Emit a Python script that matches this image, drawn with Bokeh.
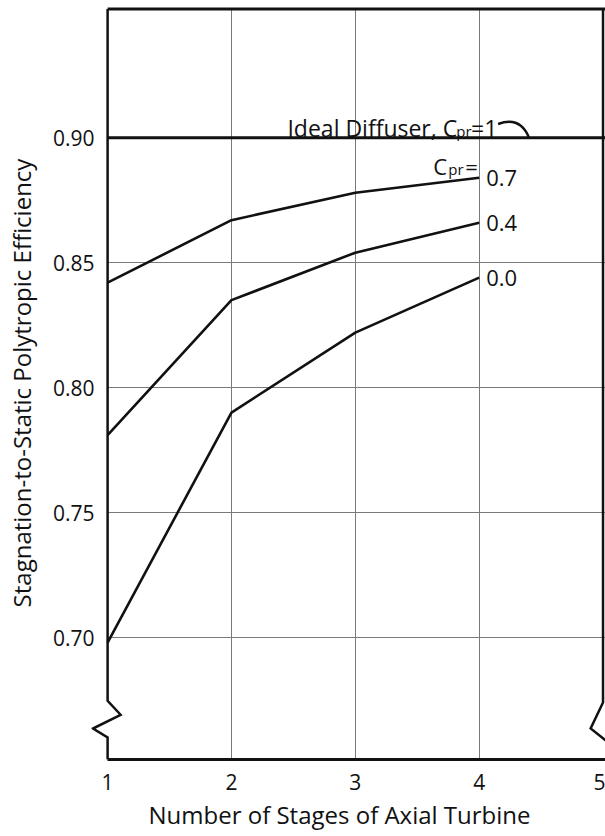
from bokeh.plotting import figure
from bokeh.models import (Range1d, FixedTicker, PrintfTickFormatter, Label, Title)
from bokeh.embed import file_html
from bokeh.resources import INLINE

# ---- data ----
stages = [1, 2, 3, 4]
eff_cpr_07 = [0.842, 0.867, 0.878, 0.884]
eff_cpr_04 = [0.781, 0.835, 0.854, 0.866]
eff_cpr_00 = [0.698, 0.790, 0.822, 0.844]
ideal_eff = 0.90
x_ticks = [1, 2, 3, 4, 5]
y_ticks = [0.70, 0.75, 0.80, 0.85, 0.90]
curve_labels = ["0.7", "0.4", "0.0"]
x_title = "Number of Stages of Axial Turbine"
y_title = "Stagnation-to-Static Polytropic Efficiency"

FONT = "Open Sans"
BLACK = "#111111"

X0, X1 = 0.87, 5.02
Y0, Y1 = 0.6512, 0.9525
YTOP = 0.9515  # top frame line

p = figure(width=605, height=836, output_backend="svg", toolbar_location=None,
           x_range=Range1d(X0, X1), y_range=Range1d(Y0, Y1),
           min_border_left=91, min_border_right=0, min_border_top=6,
           min_border_bottom=77)
p.outline_line_color = None
p.background_fill_color = "white"
p.border_fill_color = "white"

# x axis
xa = p.xaxis[0]
xa.ticker = FixedTicker(ticks=x_ticks)
xa.bounds = (1, X1)
xa.axis_line_width = 3
xa.axis_line_color = BLACK
xa.major_tick_line_color = None
xa.minor_tick_line_color = None
xa.major_label_standoff = 8
xa.major_label_text_font = FONT
xa.major_label_text_font_size = "21px"
xa.major_label_text_color = BLACK

# x title placed below the axis, starting where the reference text starts
p.add_layout(Title(text=x_title, align="left", offset=57, standoff=6,
                   text_font=FONT, text_font_size="24px", text_font_style="normal",
                   text_color=BLACK), "below")

# y axis (labels pulled in so they sit left of the x=1 frame line)
ya = p.yaxis[0]
ya.ticker = FixedTicker(ticks=y_ticks)
ya.formatter = PrintfTickFormatter(format="%.2f")
ya.axis_line_color = None
ya.major_tick_line_color = None
ya.minor_tick_line_color = None
ya.major_label_standoff = -9
ya.major_label_text_font = FONT
ya.major_label_text_font_size = "21px"
ya.major_label_text_color = BLACK
ya.axis_label = y_title
ya.axis_label_text_font = FONT
ya.axis_label_text_font_size = "24px"
ya.axis_label_text_font_style = "normal"
ya.axis_label_text_color = BLACK
ya.axis_label_standoff = 12

# grids
xg = p.xgrid[0]
xg.ticker = FixedTicker(ticks=x_ticks[1:-1])
xg.grid_line_color = "#7a7a7a"
xg.grid_line_width = 1
xg.cross_bounds = (Y0, YTOP)
yg = p.ygrid[0]
yg.ticker = FixedTicker(ticks=y_ticks[:-1])
yg.grid_line_color = "#7a7a7a"
yg.grid_line_width = 1
yg.cross_bounds = (1, X1)

# frame: top, left (with break), right (with break)
p.line([1, X1], [YTOP, YTOP], line_color=BLACK, line_width=3)
p.line([1, 1, 1.105, 0.882, 1, 1], [YTOP, 0.6747, 0.6691, 0.6636, 0.6600, Y0],
       line_color=BLACK, line_width=2.5, line_join="miter")
p.line([5, 5, 4.9, 5.03], [YTOP, 0.6740, 0.6636, 0.6585],
       line_color=BLACK, line_width=2.5, line_join="miter")

# ideal diffuser line
p.line([1, X1], [ideal_eff, ideal_eff], line_color=BLACK, line_width=3)

# curves
for ys in (eff_cpr_07, eff_cpr_04, eff_cpr_00):
    p.line(stages, ys, line_color=BLACK, line_width=2.6)

# curve labels
for lab, ys in zip(curve_labels, (eff_cpr_07, eff_cpr_04, eff_cpr_00)):
    p.add_layout(Label(x=stages[-1], y=ys[-1], text=lab, x_offset=7, y_offset=0,
                       text_baseline="middle", text_align="left",
                       text_font=FONT, text_font_size="22px", text_color=BLACK))

# "Ideal Diffuser, C_pr=1" label with hook
p.add_layout(Label(x=2.452, y=0.9039, text="Ideal Diffuser, C", text_align="left",
                   text_baseline="alphabetic", text_font=FONT,
                   text_font_size="23px", text_color=BLACK))
p.add_layout(Label(x=3.815, y=0.9027, text="pr", text_align="left",
                   text_baseline="alphabetic", text_font=FONT,
                   text_font_size="15px", text_color=BLACK))
p.add_layout(Label(x=3.935, y=0.9039, text="=1", text_align="left",
                   text_baseline="alphabetic", text_font=FONT,
                   text_font_size="23px", text_color=BLACK))
p.quadratic(x0=4.153, y0=0.9055, x1=4.403, y1=ideal_eff, cx=4.33, cy=0.9088,
            line_color=BLACK, line_width=2.5)

# "C_pr=" header above curve labels
p.add_layout(Label(x=3.629, y=0.8887, text="C", text_align="left",
                   text_baseline="alphabetic", text_font=FONT,
                   text_font_size="22px", text_color=BLACK))
p.add_layout(Label(x=3.75, y=0.8875, text="pr", text_align="left",
                   text_baseline="alphabetic", text_font=FONT,
                   text_font_size="15px", text_color=BLACK))
p.add_layout(Label(x=3.887, y=0.8887, text="=", text_align="left",
                   text_baseline="alphabetic", text_font=FONT,
                   text_font_size="22px", text_color=BLACK))

open("out.html", "w").write(file_html(p, INLINE))
